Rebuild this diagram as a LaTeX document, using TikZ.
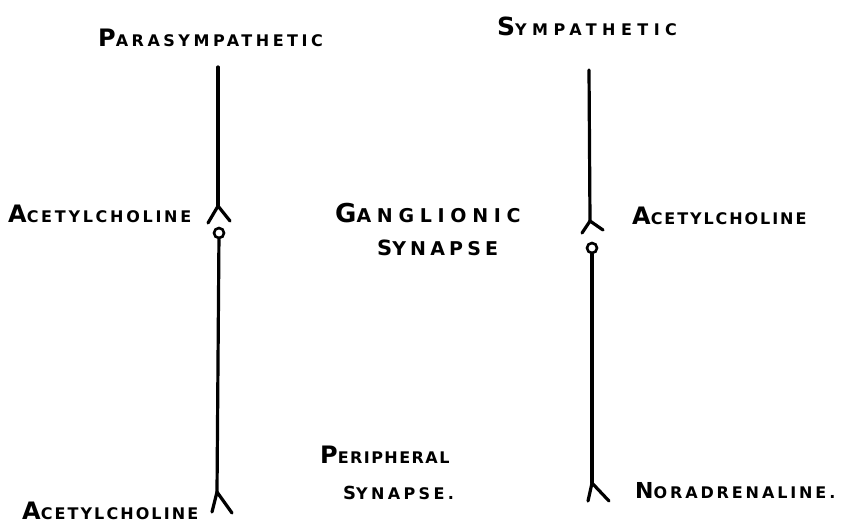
\documentclass[tikz,border=0pt]{standalone}
\usepackage{fontspec}
\usetikzlibrary{positioning}
\newfontfamily\handfont{DejaVu Sans}
\newcommand\capl[2][24]{{\fontsize{#1}{#1}\selectfont #2}}

\begin{document}
\begin{tikzpicture}[
  x=1pt, y=-1pt,
  nerve/.style={line width=3.2pt, line cap=round, line join=round, draw=black},
  knob/.style={circle, draw=black, line width=2.6pt, minimum size=10pt, inner sep=0pt},
  hand/.style={font=\handfont\addfontfeature{LetterSpace=#1}\bfseries\fontsize{16}{18}\selectfont,
    text=black, inner sep=0pt, anchor=base west},
  hand/.default=12,
  handbig/.style={font=\handfont\addfontfeature{LetterSpace=#1}\bfseries\fontsize{19}{22}\selectfont,
    text=black, inner sep=0pt, anchor=base west},
  handbig/.default=30,
]
\useasboundingbox (0,0) rectangle (858,527);

% =================== PARASYMPATHETIC ===================
\coordinate (ptop) at (218,67);
\coordinate (pfork1) at (218,206);
\coordinate (pfl1) at (208,223);
\coordinate (pfr1) at (230,221);
\node[knob] (pknob) at (219,233) {};
\coordinate (pfork2) at (217,492);
\coordinate (pfl2) at (212,512);
\coordinate (pfr2) at (232,513);

\draw[nerve] (ptop) -- (pfork1);
\draw[nerve] (pfl1) -- (pfork1) -- (pfr1);
\draw[nerve] (pknob) -- (pfork2);
\draw[nerve] (pfl2) -- (pfork2) -- (pfr2);

% =================== SYMPATHETIC ===================
\coordinate (stop) at (589,70);
\coordinate (sfork1) at (590,221);
\coordinate (sfl1) at (582,233);
\coordinate (sfr1) at (603,230);
\node[knob] (sknob) at (592,248) {};
\coordinate (sfork2) at (592,483);
\coordinate (sfl2) at (588,501);
\coordinate (sfr2) at (609,501);

\draw[nerve] (stop) -- (sfork1);
\draw[nerve] (sfl1) -- (sfork1) -- (sfr1);
\draw[nerve] (sknob) -- (sfork2);
\draw[nerve] (sfl2) -- (sfork2) -- (sfr2);

% Labels
\node[hand=22] (ptitle) at (98,46) {\capl{P}ARASYMPATHETIC};
\node[hand=34] (stitle) at (497,36) {\capl[25]{S}YMPATHETIC};
\node[hand=17] (pach1) at (8,222) {\capl{A}CETYLCHOLINE};
\node[hand] (sach1) at (632,224) {\capl{A}CETYLCHOLINE};
\node[handbig] (gang) at (335,222) {\capl[26]{G}ANGLIONIC};
\node[handbig=22] (gsyn) at (377,255) {\capl[21]{S}YNAPSE};
\node[hand=9] (peri) at (320,463) {\capl{P}ERIPHERAL};
\node[hand=21] (psyn) at (343,499) {\capl[18]{S}YNAPSE.};
\node[hand=18] (nora) at (635,498) {\capl[22]{N}ORADRENALINE.};
\node[hand=13] (pach2) at (22,519) {\capl{A}CETYLCHOLINE};

\end{tikzpicture}
\end{document}
